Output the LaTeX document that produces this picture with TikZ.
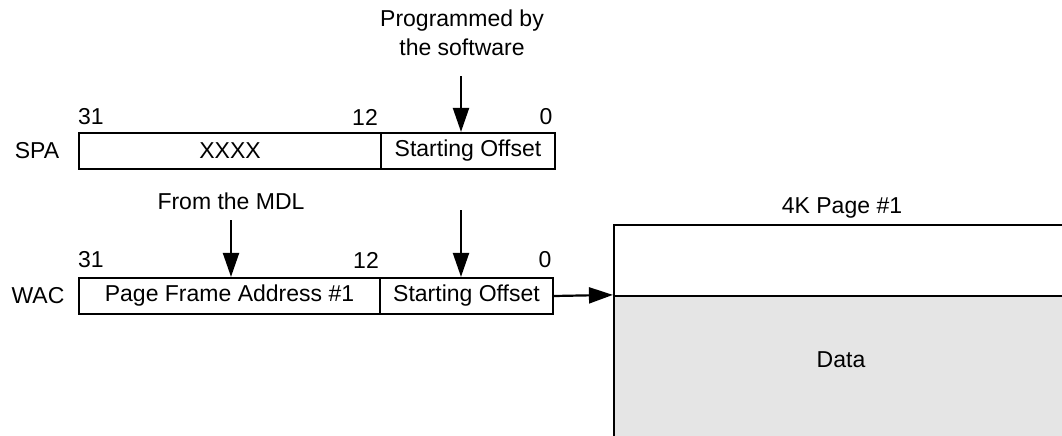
\documentclass[tikz,border=0pt]{standalone}
\usepackage{fontspec}
\setmainfont{Liberation Sans}
\usetikzlibrary{arrows.meta}
\begin{document}
\begin{tikzpicture}[x=1pt,y=-1pt,
  lbl/.style={font=\fontsize{23}{29}\selectfont,inner sep=0pt},
  field/.style={lbl,draw,line width=2.2pt,minimum height=36pt,anchor=center},
  arr/.style={line width=2.2pt,-{Triangle[length=24pt,width=16pt]}},
  pagebox/.style={draw,line width=2.2pt,minimum width=456pt,inner sep=0pt}]
\useasboundingbox (0,0) rectangle (1062,436);
% SPA register
\node[field,minimum width=302pt] (spaA) at (230,151) {XXXX};
\node[field,minimum width=174pt] (spaB) at (468,151) {Starting Offset};
\node[lbl] (spa) at (37,151) {SPA};
\node[lbl] (s31) at (91,117) {31};
\node[lbl] (s12) at (365,117) {12};
\node[lbl] (s0) at (546,117) {0};
\node[lbl,align=center] (prog) at (462,33) {Programmed by\\the software};
\coordinate (progtop) at (461,76);
\draw[arr] (progtop) -- (progtop |- spaB.north);
% WAC register
\node[field,minimum width=301pt] (wacA) at (229.5,296) {Page Frame Address \#1};
\node[field,minimum width=173pt] (wacB) at (466.5,296) {Starting Offset};
\node[lbl] (wac) at (38,296) {WAC};
\node[lbl] (w31) at (91,260) {31};
\node[lbl] (w12) at (366,260) {12};
\node[lbl] (w0) at (545,260) {0};
\node[lbl] (mdl) at (231,201) {From the MDL};
\coordinate (mdltop) at (231,220);
\draw[arr] (mdltop) -- (mdltop |- wacA.north);
\coordinate (offtop) at (461,210);
\draw[arr] (offtop) -- (offtop |- wacB.north);
% Page
\node[pagebox,minimum height=71pt] (ptop) at (842,260.5) {};
\node[pagebox,fill={rgb,255:red,229;green,229;blue,229},minimum height=150pt] (data) at (842,371) {};
\node[lbl] (dlabel) at (841,360) {Data};
\node[lbl] (ptitle) at (842,208) {4K Page \#1};
\draw[arr] (wacB.east) -- (data.north west);
\end{tikzpicture}
\end{document}
